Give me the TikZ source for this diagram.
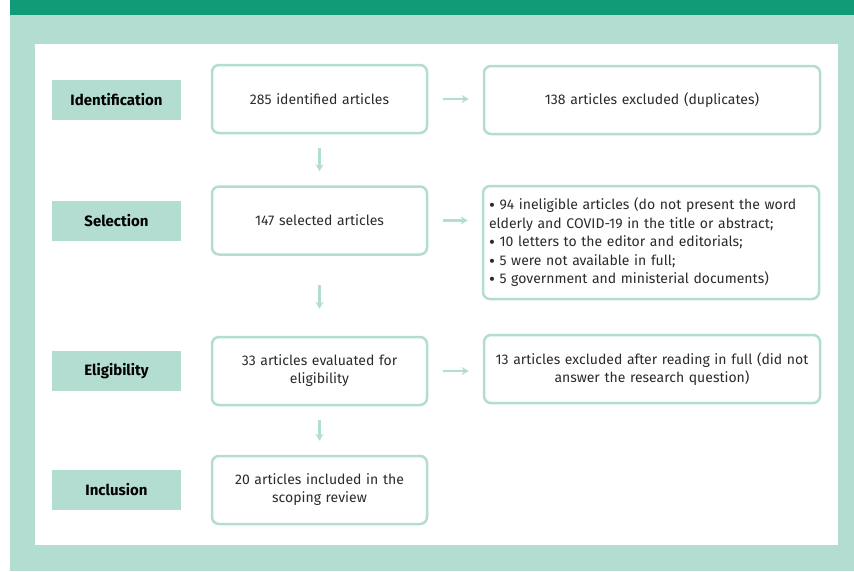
\documentclass[tikz,border=0pt]{standalone}
\usepackage{fontspec}
\setmainfont{Fira Sans}
\usepackage{tikz}
\usetikzlibrary{arrows.meta,positioning}
\definecolor{darkmint}{HTML}{119B77}
\definecolor{mint}{HTML}{B3DDD0}
\definecolor{ink}{HTML}{2B2B2B}
\newcommand{\blt}{\raisebox{-0.25ex}{\scalebox{1.3}{\textbullet}}\ }
\tikzset{
  stage/.style={fill=mint,minimum width=129pt,minimum height=40pt,inner sep=0pt,text=black,font=\bfseries\fontsize{15}{17}\selectfont},
  box/.style={draw=mint,line width=2.5pt,rounded corners=7pt,fill=white,minimum width=215pt,minimum height=68pt,align=center,text width=205pt,inner sep=0pt,text=ink,font=\fontsize{14}{18}\selectfont},
  widebox/.style={box,minimum width=336pt,text width=324pt},
  flow/.style={draw=mint,line width=2.5pt,->,shorten <=14pt,shorten >=14pt}
}

\begin{document}
\begin{tikzpicture}[x=1pt, y=-1pt,>={Stealth[length=7pt,width=8pt]}]
    \useasboundingbox (0,0) rectangle (854,571);
    % background panels
    \fill[mint] (10,0) rectangle (854,571);
    \fill[darkmint] (10,0) rectangle (854,15);
    \fill[white] (35,44) rectangle (838,545);

    % stages on the left
    \node[stage] at (116.5,100) (identification) {Identification};
    \node[stage] at (116.5,221) (selection) {Selection};
    \node[stage] at (116.5,371) (eligibility) {Eligibility};
    \node[stage] at (116.5,490) (inclusion) {Inclusion};

    % main flow
    \node[box] at (319.5,99) (identified) {285 identified articles};
    \node[box] at (319.5,220.5) (selected) {147 selected articles};
    \node[box] at (319.5,371) (evaluated) {33 articles evaluated for\\ eligibility};
    \node[box] at (319.5,490) (included) {20 articles included in the\\ scoping review};

    % excluded
    \node[widebox] at (652,100) (duplicates) {138 articles excluded (duplicates)};
    \node[widebox,minimum height=113pt,align=left,font=\fontsize{14}{18.5}\selectfont] at (651,242.5) (ineligible)
    {\blt 94 ineligible articles (do not present the word\\ elderly and COVID-19 in the title or abstract;\\
     \blt 10 letters to the editor and editorials;\\
     \blt 5 were not available in full;\\
     \blt 5 government and ministerial documents)};
    \node[widebox] at (652,369) (fullread) {13 articles excluded after reading in full (did not\\ answer the research question)};

    \draw[flow] (identified) -- (selected);
    \draw[flow,shorten <=29pt,shorten >=27pt] (selected) -- (evaluated);
    \draw[flow] (evaluated) -- (included);
    \draw[flow,shorten <=15pt] (identified.east) -- (identified.east -| duplicates.west);
    \draw[flow,shorten <=15pt] (selected.east) -- (selected.east -| ineligible.west);
    \draw[flow,shorten <=15pt] (evaluated.east) -- (evaluated.east -| fullread.west);
  \end{tikzpicture}
\end{document}
